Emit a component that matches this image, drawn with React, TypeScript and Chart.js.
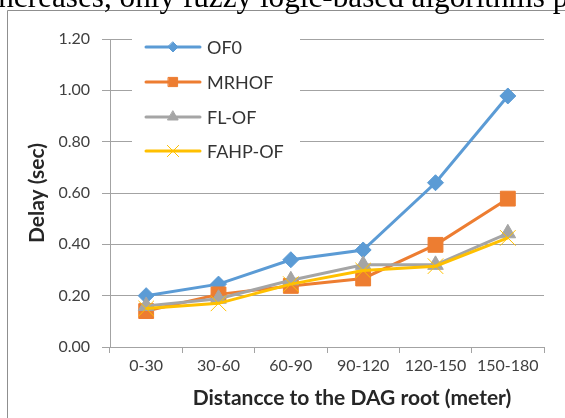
import React, { useEffect, useRef } from "react";
import { Chart, registerables } from "chart.js";

Chart.register(...registerables);

const categories = ["0-30", "30-60", "60-90", "90-120", "120-150", "150-180"];
const of0 = [0.2, 0.245, 0.34, 0.378, 0.64, 0.978];
const mrhof = [0.14, 0.205, 0.238, 0.267, 0.398, 0.578];
const flof = [0.16, 0.188, 0.26, 0.32, 0.32, 0.443];
const fahpof = [0.15, 0.17, 0.245, 0.298, 0.315, 0.425];
const seriesNames = ["OF0", "MRHOF", "FL-OF", "FAHP-OF"];
const yTicks = [0, 0.2, 0.4, 0.6, 0.8, 1.0, 1.2];
const xTitle = "Distancce to the DAG root (meter)";
const yTitle = "Delay (sec)";
const headText = "increases, only fuzzy logic-based algorithms";
const headTail = " p";

const FONT = "Lato, 'Open Sans', sans-serif";
const GRID = "#a3a3a3";

function drawPointHelper(ctx: any, style: string, r: number, x: number, y: number) {
  ctx.beginPath();
  if (style === "rectRot") {
    ctx.moveTo(x, y - r);
    ctx.lineTo(x + r, y);
    ctx.lineTo(x, y + r);
    ctx.lineTo(x - r, y);
    ctx.closePath();
    ctx.fill();
    ctx.stroke();
  } else if (style === "rect") {
    ctx.rect(x - r * 0.7071, y - r * 0.7071, r * 1.4142, r * 1.4142);
    ctx.fill();
    ctx.stroke();
  } else if (style === "triangle") {
    ctx.moveTo(x, y - r);
    ctx.lineTo(x + r * 0.866, y + r * 0.5);
    ctx.lineTo(x - r * 0.866, y + r * 0.5);
    ctx.closePath();
    ctx.fill();
    ctx.stroke();
  } else {
    const d = r * 0.7071;
    ctx.moveTo(x - d, y - d);
    ctx.lineTo(x + d, y + d);
    ctx.moveTo(x + d, y - d);
    ctx.lineTo(x - d, y + d);
    ctx.stroke();
  }
}

export default function App() {
  const ref = useRef<HTMLCanvasElement | null>(null);
  useEffect(() => {
    const canvas = ref.current!;
    const decor = {
      id: "decor",
      beforeDraw(chart: any) {
        const ctx = chart.ctx;
        ctx.save();
        ctx.fillStyle = "#fff";
        ctx.fillRect(0, 0, chart.width, chart.height);
        ctx.strokeStyle = "#8f8f8f";
        ctx.lineWidth = 1;
        ctx.beginPath();
        ctx.moveTo(7.5, chart.height);
        ctx.lineTo(7.5, 10.5);
        ctx.lineTo(chart.width, 10.5);
        ctx.stroke();
        ctx.font = "100px 'Liberation Serif', serif";
        const w100 = ctx.measureText(headText.slice(1)).width;
        const size = (547 / w100) * 100;
        ctx.font = `${size}px 'Liberation Serif', serif`;
        const full = ctx.measureText(headText).width;
        const x0 = 545 - full;
        ctx.fillStyle = "#000";
        ctx.textBaseline = "alphabetic";
        ctx.textAlign = "left";
        ctx.fillText(headText + headTail, x0, 7);
        ctx.restore();
      },
      afterDraw(chart: any) {
        const ctx = chart.ctx;
        const area = chart.chartArea;
        ctx.save();
        ctx.fillStyle = "#fff";
        ctx.fillRect(132, 30, 168, 135);
        const ys = [47, 82, 117, 151];
        const legendRadius = [5, 6.5, 6, 8];
        chart.data.datasets.forEach((ds: any, i: number) => {
          const y = ys[i];
          ctx.strokeStyle = ds.borderColor;
          ctx.lineWidth = 3;
          ctx.lineCap = "round";
          ctx.beginPath();
          ctx.moveTo(146, y);
          ctx.lineTo(200, y);
          ctx.stroke();
          ctx.lineWidth = 1;
          ctx.fillStyle = ds.pointBackgroundColor;
          ctx.strokeStyle = ds.pointBorderColor;
          drawPointHelper(ctx, ds.pointStyle, legendRadius[i], 173, y);
          ctx.fillStyle = "#333";
          ctx.font = `18px ${FONT}`;
          ctx.textBaseline = "middle";
          ctx.textAlign = "left";
          ctx.fillText(seriesNames[i], 207, y + 1);
        });
        ctx.fillStyle = "#262626";
        ctx.font = `bold 21px ${FONT}`;
        ctx.textAlign = "center";
        ctx.textBaseline = "middle";
        ctx.fillText(xTitle, 352, 398);
        ctx.translate(37, (area.top + area.bottom) / 2);
        ctx.rotate(-Math.PI / 2);
        ctx.fillText(yTitle, 0, 0);
        ctx.restore();
      },
    };

    const chart = new Chart(canvas, {
      type: "line",
      data: {
        labels: categories,
        datasets: [
          {
            label: seriesNames[0],
            data: of0,
            borderColor: "#5B9BD5",
            backgroundColor: "#5B9BD5",
            pointBackgroundColor: "#5B9BD5",
            pointBorderColor: "#5B9BD5",
            pointStyle: "rectRot",
            pointRadius: 8,
            pointBorderWidth: 1,
            borderWidth: 3,
            order: 3,
          },
          {
            label: seriesNames[1],
            data: mrhof,
            borderColor: "#ED7D31",
            backgroundColor: "#ED7D31",
            pointBackgroundColor: "#ED7D31",
            pointBorderColor: "#ED7D31",
            pointStyle: "rect",
            pointRadius: 10.5,
            pointBorderWidth: 1,
            borderWidth: 3,
            order: 2,
          },
          {
            label: seriesNames[2],
            data: flof,
            borderColor: "#A5A5A5",
            backgroundColor: "#A5A5A5",
            pointBackgroundColor: "#A5A5A5",
            pointBorderColor: "#A5A5A5",
            pointStyle: "triangle",
            pointRadius: 9,
            pointBorderWidth: 1,
            borderWidth: 3,
            order: 1,
          },
          {
            label: seriesNames[3],
            data: fahpof,
            borderColor: "#FFC000",
            backgroundColor: "#FFC000",
            pointBackgroundColor: "#FFC000",
            pointBorderColor: "#FFC000",
            pointStyle: "crossRot",
            pointRadius: 11,
            pointBorderWidth: 1,
            borderWidth: 3,
            order: 0,
          },
        ],
      },
      options: {
        responsive: false,
        animation: false,
        devicePixelRatio: 1,
        layout: { padding: { top: 39, right: 21, bottom: 0, left: 0 } },
        plugins: { legend: { display: false }, tooltip: { enabled: false } },
        scales: {
          x: {
            offset: true,
            grid: {
              offset: true,
              drawOnChartArea: false,
              drawTicks: true,
              tickLength: 6,
              color: GRID,
            },
            border: { display: true, color: GRID },
            ticks: {
              font: { family: FONT, size: 16 },
              color: "#404040",
              padding: 3,
              maxRotation: 0,
              autoSkip: false,
            },
            afterFit: (s: any) => {
              s.height = 71;
            },
          },
          y: {
            min: 0,
            max: 1.2,
            afterBuildTicks: (s: any) => {
              s.ticks = yTicks.map((v) => ({ value: v }));
            },
            grid: { color: GRID, tickLength: 8, drawTicks: true },
            border: { display: true, color: GRID },
            ticks: {
              font: { family: FONT, size: 16 },
              color: "#404040",
              padding: 12,
              callback: (v: any) => Number(v).toFixed(2),
            },
            afterFit: (s: any) => {
              s.width = 110;
            },
          },
        },
      },
      plugins: [decor],
    } as any);
    return () => chart.destroy();
  }, []);
  return (
    <div style={{ position: "fixed", left: 0, top: 0, width: 565, height: 418, background: "#fff" }}>
      <canvas ref={ref} width={565} height={418} style={{ display: "block" }} />
    </div>
  );
}
